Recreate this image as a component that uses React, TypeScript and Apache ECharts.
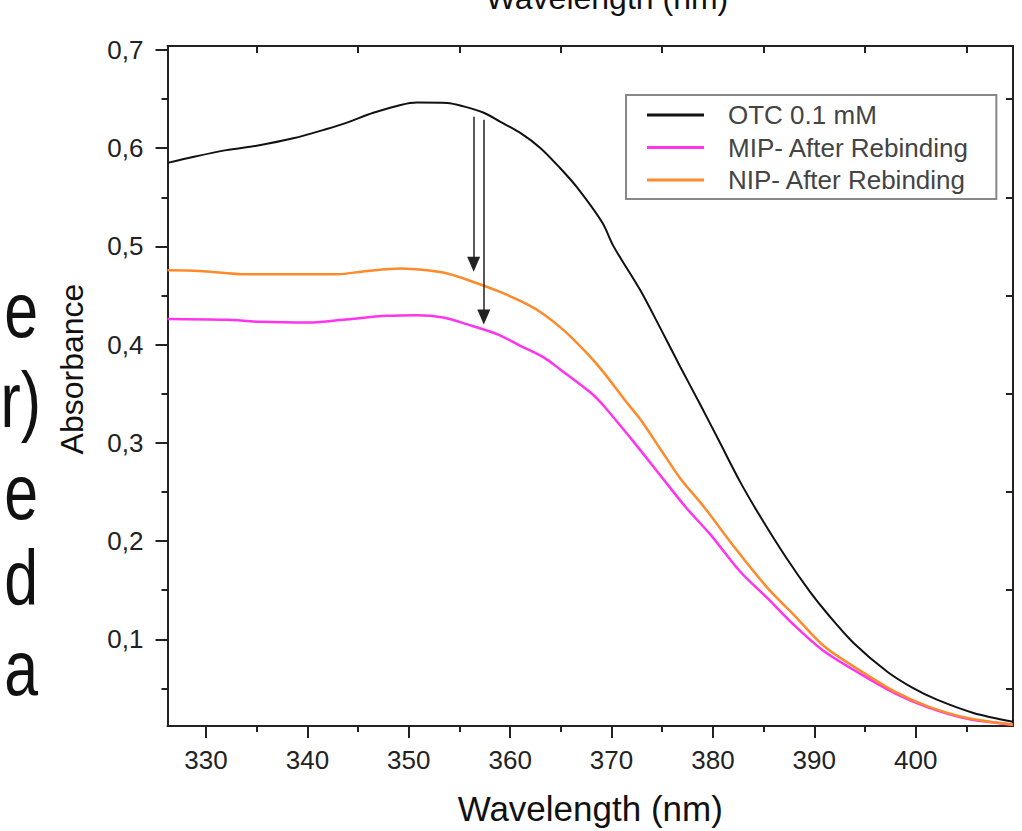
import React, { useEffect, useRef } from 'react';
import * as echarts from 'echarts';

// ---- data ----
const otcWl = [326.2, 328.7, 332.0, 335.0, 338.6, 341.9, 343.9, 346.5, 349.2, 350.8, 353.8, 355.4, 357.4, 359.0, 361.0, 363.0, 364.9, 366.6, 369.1, 370.2, 372.8, 374.8, 376.8, 378.8, 380.7, 382.7, 384.7, 387.3, 389.6, 391.3, 393.9, 397.2, 399.8, 402.1, 405.7, 409.6];
const otcAbs = [0.585, 0.591, 0.598, 0.6025, 0.61, 0.6195, 0.626, 0.636, 0.644, 0.6465, 0.646, 0.6425, 0.636, 0.627, 0.6155, 0.6, 0.58, 0.56, 0.524, 0.5, 0.456, 0.417, 0.377, 0.338, 0.3, 0.26, 0.2245, 0.182, 0.148, 0.126, 0.096, 0.067, 0.05, 0.0385, 0.025, 0.016];

const mipWl = [326.2, 332.0, 335.3, 340.2, 343.5, 347.8, 350.8, 353.4, 355.7, 358.7, 361.0, 363.3, 364.9, 367.9, 369.2, 372.2, 374.8, 377.3, 379.8, 382.7, 385.4, 388.0, 391.0, 394.7, 397.9, 401.2, 405.1, 409.6];
const mipAbs = [0.426, 0.4252, 0.4232, 0.4225, 0.4252, 0.4293, 0.43, 0.4276, 0.4208, 0.4107, 0.3988, 0.387, 0.375, 0.3515, 0.338, 0.3007, 0.267, 0.2347, 0.206, 0.1687, 0.1416, 0.1145, 0.0875, 0.0638, 0.0452, 0.0307, 0.019, 0.013];

const nipWl = [326.2, 329.4, 334.0, 338.6, 342.9, 345.9, 349.2, 351.8, 353.8, 356.1, 359.0, 361.7, 363.3, 365.3, 367.5, 369.2, 371.5, 372.8, 374.8, 376.8, 379.1, 382.1, 385.4, 388.0, 391.0, 394.7, 397.9, 401.2, 405.1, 409.6];
const nipAbs = [0.4756, 0.475, 0.4716, 0.4716, 0.4716, 0.475, 0.4774, 0.4756, 0.4723, 0.4648, 0.4536, 0.441, 0.431, 0.4145, 0.392, 0.372, 0.341, 0.3244, 0.294, 0.2635, 0.235, 0.194, 0.152, 0.1247, 0.0926, 0.067, 0.0469, 0.0317, 0.0198, 0.013];

const seriesNames = ['OTC 0.1 mM', 'MIP- After Rebinding', 'NIP- After Rebinding'];

const xMajorTicks = [330, 340, 350, 360, 370, 380, 390, 400];
const xMinorTicks = [335, 345, 355, 365, 375, 385, 395, 405];
const yMajorTicks = [0.1, 0.2, 0.3, 0.4, 0.5, 0.6, 0.7];
const yMinorTicks = [0.05, 0.15, 0.25, 0.35, 0.45, 0.55, 0.65];

// arrows (wavelength, start absorbance, end absorbance)
const arrowWl = [356.4, 357.4];
const arrowFrom = [0.632, 0.629];
const arrowTo = [0.4817, 0.428];

// fragments of the neighbouring text that the cropped figure shows at its left edge
const sideLetters = ['e', 'r)', 'e', 'd', 'a'];

const X_MIN = 326.2;
const X_MAX = 409.6;
const Y_MIN = 0.0117;
const Y_MAX = 0.704;

const FONT = "'Liberation Sans', Arial, Helvetica, sans-serif";

const zip = (xs: number[], ys: number[]) => xs.map((x, i) => [x, ys[i]]);

export default function App() {
  const ref = useRef<HTMLDivElement>(null);

  useEffect(() => {
    if (!ref.current) return;
    const chart = echarts.init(ref.current, null, { renderer: 'svg' });
    const line = { color: '#222', width: 2 };

    const xBase = { type: 'value', min: X_MIN, max: X_MAX, splitLine: { show: false }, gridIndex: 0 };
    const yBase = { type: 'value', min: Y_MIN, max: Y_MAX, splitLine: { show: false }, gridIndex: 0 };

    const sideY = [310, 400, 492, 578, 668];
    const sideX = [38, 41, 38, 38, 38];

    const option: any = {
      animation: false,
      backgroundColor: '#fff',
      textStyle: { fontFamily: FONT },
      grid: { left: 167.5, right: 9, top: 46, bottom: 103, containLabel: false },
      legend: {
        orient: 'vertical',
        left: 626,
        top: 95,
        padding: [7, 27, 6, 21],
        borderColor: '#888',
        borderWidth: 2,
        backgroundColor: '#fff',
        icon: 'rect',
        itemWidth: 57,
        itemHeight: 3,
        itemGap: 6.5,
        selectedMode: false,
        textStyle: { fontSize: 26, lineHeight: 26, color: '#444', fontFamily: FONT, padding: [0, 0, 0, 19] },
        data: seriesNames,
      },
      xAxis: [
        {
          ...xBase,
          position: 'bottom',
          axisLine: { show: true, onZero: false, lineStyle: line },
          axisTick: { show: true, customValues: xMajorTicks, length: 12, inside: false, lineStyle: line },
          axisLabel: { show: true, customValues: xMajorTicks, fontSize: 26, color: '#222', margin: 21, fontFamily: FONT },
          name: 'Wavelength (nm)',
          nameLocation: 'middle',
          nameGap: 65,
          nameTextStyle: { fontSize: 35, color: '#111', fontFamily: FONT },
        },
        {
          ...xBase,
          position: 'bottom',
          axisLine: { show: false, onZero: false },
          axisTick: { show: true, customValues: xMinorTicks, length: 6, inside: false, lineStyle: line },
          axisLabel: { show: false },
        },
        {
          ...xBase,
          position: 'top',
          axisLine: { show: true, onZero: false, lineStyle: line },
          axisTick: { show: true, customValues: xMinorTicks, length: 7, inside: true, lineStyle: line },
          axisLabel: { show: false },
        },
      ],
      yAxis: [
        {
          ...yBase,
          position: 'left',
          axisLine: { show: true, onZero: false, lineStyle: line },
          axisTick: { show: true, customValues: yMajorTicks, length: 12, inside: false, lineStyle: line },
          axisLabel: {
            show: true,
            customValues: yMajorTicks,
            fontSize: 26,
            color: '#222',
            margin: 24,
            fontFamily: FONT,
            formatter: (v: number) => v.toFixed(1).replace('.', ','),
          },
        },
        {
          ...yBase,
          position: 'left',
          axisLine: { show: false, onZero: false },
          axisTick: { show: true, customValues: yMinorTicks, length: 6, inside: false, lineStyle: line },
          axisLabel: { show: false },
        },
        {
          ...yBase,
          position: 'right',
          axisLine: { show: true, onZero: false, lineStyle: line },
          axisTick: { show: true, customValues: yMinorTicks, length: 7, inside: true, lineStyle: line },
          axisLabel: { show: false },
        },
      ],
      series: [
        {
          name: seriesNames[0],
          type: 'line',
          xAxisIndex: 0,
          yAxisIndex: 0,
          data: zip(otcWl, otcAbs),
          symbol: 'none',
          smooth: 0.3,
          color: '#111',
          lineStyle: { color: '#111', width: 2 },
          emphasis: { disabled: true },
          z: 3,
          markLine: {
            silent: true,
            symbol: ['none', 'path://M5 0 L10 14 L0 14 Z'],
            symbolSize: [13, 15],
            lineStyle: { color: '#222', width: 1.5, type: 'solid' },
            label: { show: false },
            emphasis: { disabled: true },
            data: arrowWl.map((w, i) => [{ coord: [w, arrowFrom[i]] }, { coord: [w, arrowTo[i]] }]),
          },
        },
        {
          name: seriesNames[1],
          type: 'line',
          xAxisIndex: 0,
          yAxisIndex: 0,
          data: zip(mipWl, mipAbs),
          symbol: 'none',
          smooth: 0.3,
          color: '#ff33f0',
          lineStyle: { color: '#ff33f0', width: 2.5 },
          emphasis: { disabled: true },
          z: 2,
        },
        {
          name: seriesNames[2],
          type: 'line',
          xAxisIndex: 0,
          yAxisIndex: 0,
          data: zip(nipWl, nipAbs),
          symbol: 'none',
          smooth: 0.3,
          color: '#ff8a2b',
          lineStyle: { color: '#ff8a2b', width: 2.5 },
          emphasis: { disabled: true },
          z: 2,
        },
      ],
      graphic: [
        {
          type: 'text',
          x: 72,
          y: 369,
          rotation: Math.PI / 2,
          style: { text: 'Absorbance', fontSize: 32, fill: '#111', fontFamily: FONT, align: 'center', verticalAlign: 'middle' },
        },
        {
          type: 'text',
          x: 607,
          y: 14,
          style: { text: 'Wavelength (nm)', fontSize: 32, fill: '#111', fontFamily: FONT, align: 'center', verticalAlign: 'bottom' },
        },
        ...sideLetters.map((t, i) => ({
          type: 'text',
          x: sideX[i],
          y: sideY[i],
          scaleX: 0.78,
          style: { text: t, fontSize: 78, fill: '#111', fontFamily: FONT, align: 'right', verticalAlign: 'middle' },
        })),
      ],
    };

    chart.setOption(option);
    return () => chart.dispose();
  }, []);

  return (
    <div
      ref={ref}
      style={{ position: 'fixed', left: 0, top: 0, width: 1022, height: 831, background: '#fff' }}
    />
  );
}
